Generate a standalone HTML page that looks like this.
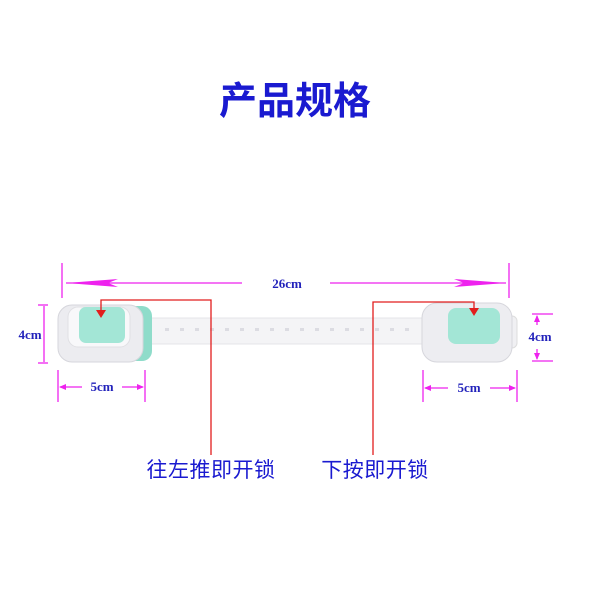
<!DOCTYPE html>
<html><head><meta charset="utf-8"><style>
body{margin:0;background:#fff;width:600px;height:600px;overflow:hidden}
svg{display:block}
</style></head><body>
<svg width="600" height="600" viewBox="0 0 600 600" xmlns="http://www.w3.org/2000/svg">
<text x="295" y="114" text-anchor="middle" font-family="Noto Sans CJK SC, sans-serif" font-size="38" font-weight="bold" fill="#1a1ad0">产品规格</text>

<!-- strap -->
<rect x="140" y="318" width="295" height="26" rx="4" fill="#f4f4f6" stroke="#e4e4e8"/>
<g fill="#dcdce2">
<rect x="165" y="328" width="4" height="3"/><rect x="180" y="328" width="4" height="3"/><rect x="195" y="328" width="4" height="3"/><rect x="210" y="328" width="4" height="3"/><rect x="225" y="328" width="4" height="3"/><rect x="240" y="328" width="4" height="3"/><rect x="255" y="328" width="4" height="3"/><rect x="270" y="328" width="4" height="3"/><rect x="285" y="328" width="4" height="3"/><rect x="300" y="328" width="4" height="3"/><rect x="315" y="328" width="4" height="3"/><rect x="330" y="328" width="4" height="3"/><rect x="345" y="328" width="4" height="3"/><rect x="360" y="328" width="4" height="3"/><rect x="375" y="328" width="4" height="3"/><rect x="390" y="328" width="4" height="3"/><rect x="405" y="328" width="4" height="3"/>
</g>

<!-- left device -->
<rect x="125" y="306" width="27" height="55" rx="10" fill="#8fdcca"/>
<rect x="58" y="305" width="85" height="57" rx="14" fill="#ececf0" stroke="#d6d6dc"/>
<rect x="68" y="307" width="62" height="40" rx="10" fill="#f8f8fa" stroke="#e0e0e4"/>
<rect x="79" y="307" width="46" height="36" rx="7" fill="#a3e6d6"/>

<!-- right device -->
<rect x="505" y="316" width="12" height="32" rx="5" fill="#f0f0f3" stroke="#ddd"/>
<rect x="422" y="303" width="90" height="59" rx="15" fill="#ededf1" stroke="#d6d6dc"/>
<rect x="448" y="308" width="52" height="36" rx="8" fill="#a3e6d6"/>

<g stroke="#ee22ee" stroke-width="1.3" fill="#ee22ee">
<line x1="62" y1="263" x2="62" y2="298"/>
<line x1="509" y1="263" x2="509" y2="298"/>
<line x1="66" y1="283" x2="242" y2="283"/>
<line x1="330" y1="283" x2="506" y2="283"/>
<polygon points="66,283 118,279 108,283 118,287" stroke="none"/>
<polygon points="506,283 454,279 464,283 454,287" stroke="none"/>
<line x1="38" y1="305" x2="48" y2="305"/>
<line x1="38" y1="363" x2="48" y2="363"/>
<line x1="44" y1="306" x2="44" y2="362"/>
<line x1="532" y1="314" x2="553" y2="314"/>
<line x1="532" y1="361" x2="553" y2="361"/>
<line x1="537" y1="316" x2="537" y2="325"/>
<line x1="537" y1="349" x2="537" y2="359"/>
<polygon points="537,315 534,322 540,322" stroke="none"/>
<polygon points="537,360 534,353 540,353" stroke="none"/>
<line x1="58" y1="370" x2="58" y2="402"/>
<line x1="145" y1="370" x2="145" y2="402"/>
<line x1="60" y1="387" x2="82" y2="387"/>
<line x1="122" y1="387" x2="143" y2="387"/>
<polygon points="59,387 66,384 66,390" stroke="none"/>
<polygon points="144,387 137,384 137,390" stroke="none"/>
<line x1="423" y1="370" x2="423" y2="402"/>
<line x1="517" y1="370" x2="517" y2="402"/>
<line x1="425" y1="388" x2="448" y2="388"/>
<line x1="490" y1="388" x2="515" y2="388"/>
<polygon points="424,388 431,385 431,391" stroke="none"/>
<polygon points="516,388 509,385 509,391" stroke="none"/>
</g>
<g font-family="Liberation Serif, serif" font-weight="bold" font-size="13" fill="#2222bb" text-anchor="middle">
<text x="287" y="288">26cm</text>
<text x="30" y="339">4cm</text>
<text x="540" y="341">4cm</text>
<text x="102" y="391">5cm</text>
<text x="469" y="392">5cm</text>
</g>

<g stroke="#e21d1d" stroke-width="1.3" fill="none">
<polyline points="101,316 101,300 211,300 211,455"/>
<polyline points="373,455 373,302 474,302 474,314"/>
</g>
<polygon points="96,310 106,310 101,318" fill="#e21d1d"/>
<polygon points="469,308 479,308 474,316" fill="#e21d1d"/>

<g font-family="Noto Sans CJK SC, sans-serif" font-size="21" fill="#1a1ad0" text-anchor="middle" letter-spacing="0.5">
<text x="211" y="477">往左推即开锁</text>
<text x="375" y="477">下按即开锁</text>
</g>
</svg>
</body></html>
